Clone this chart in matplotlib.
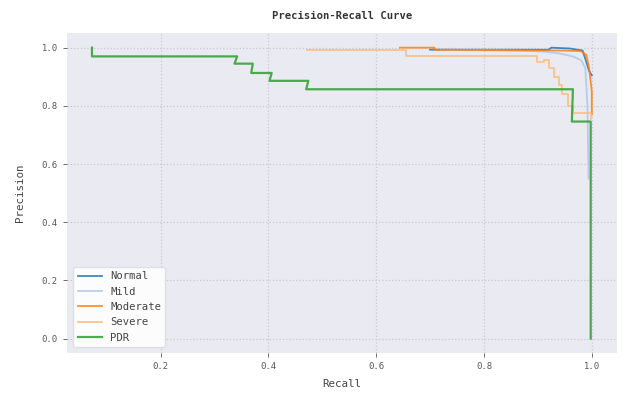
import matplotlib
matplotlib.use("Agg")
import matplotlib.pyplot as plt

plt.rcParams["font.family"] = ["DejaVu Sans Mono"]

# values
labels = ["Normal", "Mild", "Moderate", "Severe", "PDR"]
colors = ["#1f77b4", "#aec7e8", "#ff7f0e", "#ffbb78", "#2ca02c"]

recall_normal = [0.70, 0.92, 0.925, 0.96, 0.983, 0.99, 0.995, 1.0]
prec_normal = [0.993, 0.993, 1.0, 0.997, 0.99, 0.95, 0.92, 0.905]

recall_mild = [0.72, 0.85, 0.908, 0.94, 0.965, 0.98, 0.988, 0.992, 0.994]
prec_mild = [0.993, 0.99, 0.987, 0.98, 0.97, 0.957, 0.93, 0.80, 0.55]

recall_moderate = [0.644, 0.708, 0.708, 0.95, 0.98, 0.99, 0.995, 1.0, 1.0]
prec_moderate = [1.0, 1.0, 0.993, 0.99, 0.988, 0.975, 0.93, 0.85, 0.77]

recall_severe = [0.471, 0.656, 0.656, 0.899, 0.899, 0.912, 0.912, 0.921, 0.921,
                 0.93, 0.93, 0.94, 0.94, 0.945, 0.945, 0.955, 0.955, 0.965,
                 0.965, 0.998, 0.998]
prec_severe = [0.992, 0.992, 0.970, 0.970, 0.952, 0.952, 0.956, 0.956, 0.93,
               0.93, 0.90, 0.90, 0.87, 0.87, 0.84, 0.84, 0.80, 0.80,
               0.775, 0.775, 0.755]

recall_pdr = [0.0725, 0.0725, 0.342, 0.337, 0.371, 0.368, 0.406, 0.402, 0.474,
              0.470, 0.965, 0.963, 0.998, 0.998]
prec_pdr = [1.0, 0.970, 0.970, 0.945, 0.945, 0.913, 0.913, 0.886, 0.886,
            0.857, 0.857, 0.746, 0.746, 0.0]

curves = [
    (recall_normal, prec_normal),
    (recall_mild, prec_mild),
    (recall_moderate, prec_moderate),
    (recall_severe, prec_severe),
    (recall_pdr, prec_pdr),
]

fig = plt.figure(figsize=(6.23, 3.99), dpi=100)
ax = fig.add_axes([0.1075, 0.115, 0.8825, 0.802])
ax.set_facecolor("#eaeaf2")
for s in ax.spines.values():
    s.set_visible(False)

for (r, p), lab, col in zip(curves, labels, colors):
    lw = 1.6 if lab == "PDR" else 1.3
    ax.plot(r, p, color=col, lw=lw, alpha=0.85, label=lab)

ax.grid(True, color="#c8c8d0", linestyle=":", linewidth=0.9)
ax.set_axisbelow(True)
ax.tick_params(labelsize=6.4, colors="#555555", length=3, width=0.6)
ax.set_xticks([0.2, 0.4, 0.6, 0.8, 1.0])
ax.set_yticks([0.0, 0.2, 0.4, 0.6, 0.8, 1.0])

ax.set_xlabel("Recall", fontsize=7.8, color="#444444", labelpad=6)
ax.set_ylabel("Precision", fontsize=7.8, color="#444444", labelpad=12)
ax.set_title("Precision-Recall Curve", fontsize=7.6, fontweight="bold",
             color="#333333", pad=10)

leg = ax.legend(loc="lower left", fontsize=7.6, frameon=True, framealpha=0.9,
                facecolor="white", edgecolor="#dddddd", borderaxespad=0.6,
                handlelength=2.3)
for t in leg.get_texts():
    t.set_color("#444444")

fig.savefig("out.png", dpi=100)
